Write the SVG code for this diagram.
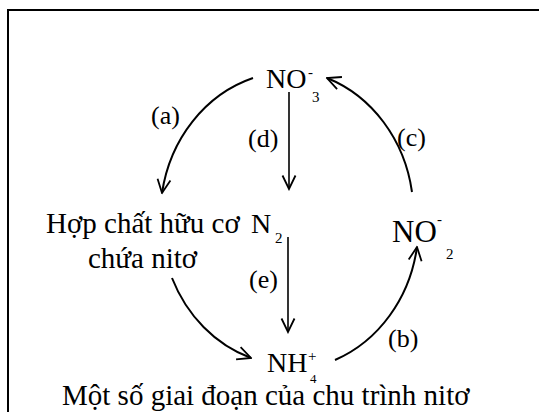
<svg xmlns="http://www.w3.org/2000/svg" width="539" height="412" viewBox="0 0 539 412">
<style>
text{font-family:"Liberation Serif","Times New Roman",serif;fill:#000}
.m{font-size:29px}
.f{font-size:28px}
.l{font-size:26px}
.s{font-size:15px}
.arc{fill:none;stroke:#000;stroke-width:2}
.v{fill:none;stroke:#000;stroke-width:1.6}
</style>
<defs>
<marker id="ah" viewBox="0 0 16 16" refX="14.5" refY="8" markerWidth="16" markerHeight="16" markerUnits="userSpaceOnUse" orient="auto">
<path d="M1,1.5 L14.5,8 L1,14.5" fill="none" stroke="#000" stroke-width="1.8"/>
</marker>
</defs>
<rect width="539" height="412" fill="#fff"/>
<path d="M8,412 V10 H539" fill="none" stroke="#000" stroke-width="2"/>
<g id="no3"><text class="f" x="266" y="88">NO</text><text class="s" x="308" y="77">-</text><text class="s" x="312" y="102">3</text></g>
<g id="organic"><text class="m" x="46" y="233">Hợp chất hữu cơ</text><text class="m" x="88" y="268">chứa nitơ</text></g>
<g id="n2"><text class="f" x="251" y="233">N</text><text class="s" x="275" y="243">2</text></g>
<g id="no2"><text x="392" y="242" font-size="31">NO</text><text class="s" x="437" y="224">-</text><text class="s" x="446" y="259">2</text></g>
<g id="nh4"><text class="f" x="267" y="372">NH</text><text class="s" x="308" y="361">+</text><text x="310" y="383" font-size="13">4</text></g>
<g id="caption"><text class="m" x="62" y="405">Một số giai đoạn của chu trình nitơ</text></g>
<g id="connectors">
<path class="arc" d="M253,78 A132 145 0 0 0 162,193" marker-end="url(#ah)"/>
<path class="arc" d="M412,192 A132 145 0 0 0 327,78" marker-end="url(#ah)"/>
<path class="arc" d="M335,360 A132 145 0 0 0 417,247" marker-end="url(#ah)"/>
<path class="arc" d="M172,278 A132 145 0 0 0 251,358" marker-end="url(#ah)"/>
<path class="v" d="M289,92 V189" marker-end="url(#ah)"/>
<path class="v" d="M288,237 V332" marker-end="url(#ah)"/>
<text class="l" x="151" y="124">(a)</text>
<text class="l" x="248" y="147">(d)</text>
<text class="l" x="397" y="146">(c)</text>
<text class="l" x="249" y="288">(e)</text>
<text class="l" x="388" y="347">(b)</text>
</g>
</svg>
